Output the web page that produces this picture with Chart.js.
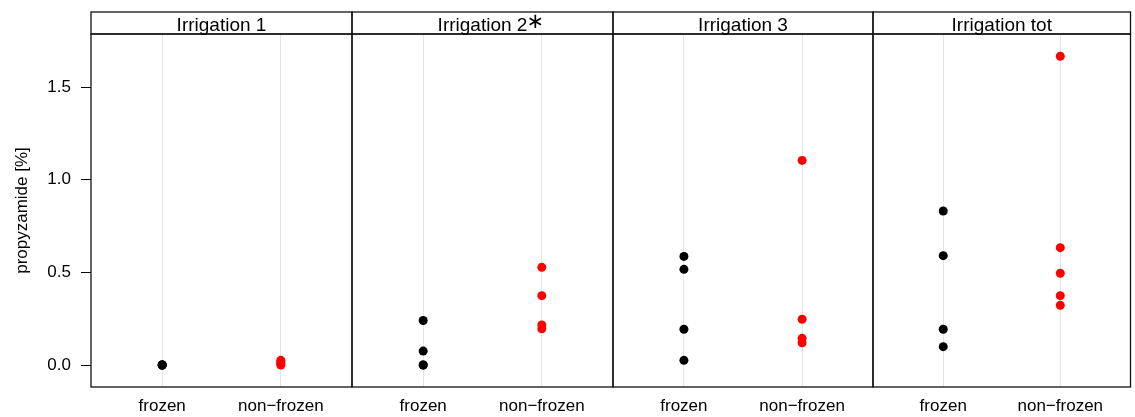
<!DOCTYPE html>
<html>
<head>
<meta charset="utf-8">
<script src="https://cdn.jsdelivr.net/npm/chart.js@4/dist/chart.umd.min.js"></script>
<style>
  html, body { margin: 0; padding: 0; background: #fff; }
  #wrap { position: relative; width: 1135px; height: 417px; }
  #wrap canvas { position: absolute; left: 0; top: 0; pointer-events: none; }
</style>
</head>
<body>
<div id="wrap"></div>
<script>
// panel titles and categories
const panelTitles = ['Irrigation 1', 'Irrigation 2*', 'Irrigation 3', 'Irrigation tot'];
const categories = ['frozen', 'non\u2212frozen'];
const yTickValues = [0, 0.5, 1.0, 1.5];

// propyzamide [%]
const frozen1 = [0, 0, 0, 0];
const nonFrozen1 = [0.025, 0.015, 0.005, 0];
const frozen2 = [0.24, 0.075, 0, 0];
const nonFrozen2 = [0.527, 0.374, 0.216, 0.195];
const frozen3 = [0.586, 0.516, 0.193, 0.025];
const nonFrozen3 = [1.104, 0.247, 0.144, 0.12];
const frozenTot = [0.831, 0.59, 0.193, 0.099];
const nonFrozenTot = [1.666, 0.633, 0.495, 0.374, 0.322];

const frozenByPanel = [frozen1, frozen2, frozen3, frozenTot];
const nonFrozenByPanel = [nonFrozen1, nonFrozen2, nonFrozen3, nonFrozenTot];

const W = 1135, H = 417;
const edges = [91, 352, 613, 873, 1134];
const plotTop = 34, stripTop = 12;
const FONT = "'Liberation Sans', Arial, Helvetica, sans-serif";

const framePlugin = {
    id: 'frame',
    afterDraw(chart, args, opts) {
        const ctx = chart.ctx;
        const a = chart.chartArea;
        ctx.save();
        ctx.strokeStyle = '#111';
        ctx.lineWidth = 1.3;
        ctx.strokeRect(a.left, a.top, a.right - a.left, a.bottom - a.top);
        ctx.strokeRect(a.left, stripTop, a.right - a.left, a.top - stripTop);
        // strip label
        let title = opts.title;
        let star = false;
        if (title.endsWith('*')) { star = true; title = title.slice(0, -1); }
        ctx.fillStyle = '#000';
        ctx.font = '19px ' + FONT;
        ctx.textAlign = 'center';
        ctx.textBaseline = 'alphabetic';
        const cx = (a.left + a.right) / 2;
        ctx.fillText(title, cx, 30.5);
        if (star) {
            const w = ctx.measureText(title).width;
            ctx.font = '21px "DejaVu Sans"';
            ctx.textBaseline = 'middle';
            ctx.fillText('\u2217', cx + w / 2 + 8, 23);
        }
        ctx.restore();
    }
};

function makePanel(i) {
    const canvas = document.createElement('canvas');
    canvas.width = W;
    canvas.height = H;
    document.getElementById('wrap').appendChild(canvas);
    const first = i === 0;

    new Chart(canvas.getContext('2d'), {
        type: 'scatter',
        data: {
            datasets: [
                {
                    label: 'frozen',
                    data: frozenByPanel[i].map(v => ({ x: 1, y: v })),
                    backgroundColor: '#000',
                    borderColor: '#000',
                    pointRadius: 4.5,
                    borderWidth: 0
                },
                {
                    label: 'non-frozen',
                    data: nonFrozenByPanel[i].map(v => ({ x: 2, y: v })),
                    backgroundColor: '#ff0000',
                    borderColor: '#ff0000',
                    pointRadius: 4.5,
                    borderWidth: 0
                }
            ]
        },
        options: {
            responsive: false,
            animation: false,
            events: [],
            layout: {
                padding: { left: first ? 0 : edges[i], right: W - edges[i + 1], top: plotTop, bottom: 0 }
            },
            plugins: {
                legend: { display: false },
                tooltip: { enabled: false },
                frame: { title: panelTitles[i] }
            },
            scales: {
                x: {
                    type: 'linear',
                    min: 0.4,
                    max: 2.6,
                    afterBuildTicks: s => { s.ticks = [{ value: 1 }, { value: 2 }]; },
                    afterFit: s => { s.height = H - 387; },
                    border: { display: false },
                    grid: { drawOnChartArea: true, drawTicks: false, color: '#e6e6e6', lineWidth: 1 },
                    ticks: {
                        padding: 9,
                        color: '#000',
                        font: { family: FONT, size: 17 },
                        callback: v => categories[v - 1]
                    }
                },
                y: {
                    display: first,
                    min: -0.1187,
                    max: 1.786,
                    afterBuildTicks: s => { s.ticks = yTickValues.map(v => ({ value: v })); },
                    afterFit: s => { s.width = first ? edges[0] : 0; },
                    border: { display: false },
                    grid: { drawOnChartArea: false, drawTicks: true, tickLength: 10, color: '#000', lineWidth: 1 },
                    ticks: {
                        padding: 10,
                        color: '#000',
                        font: { family: FONT, size: 17 },
                        callback: v => v.toFixed(1)
                    },
                    title: {
                        display: true,
                        text: 'propyzamide [%]',
                        color: '#000',
                        font: { family: FONT, size: 17 },
                        padding: { top: 12, bottom: 0 }
                    }
                }
            }
        },
        plugins: [framePlugin]
    });
}

for (let i = 0; i < panelTitles.length; i++) {
    makePanel(i);
}
</script>
</body>
</html>
